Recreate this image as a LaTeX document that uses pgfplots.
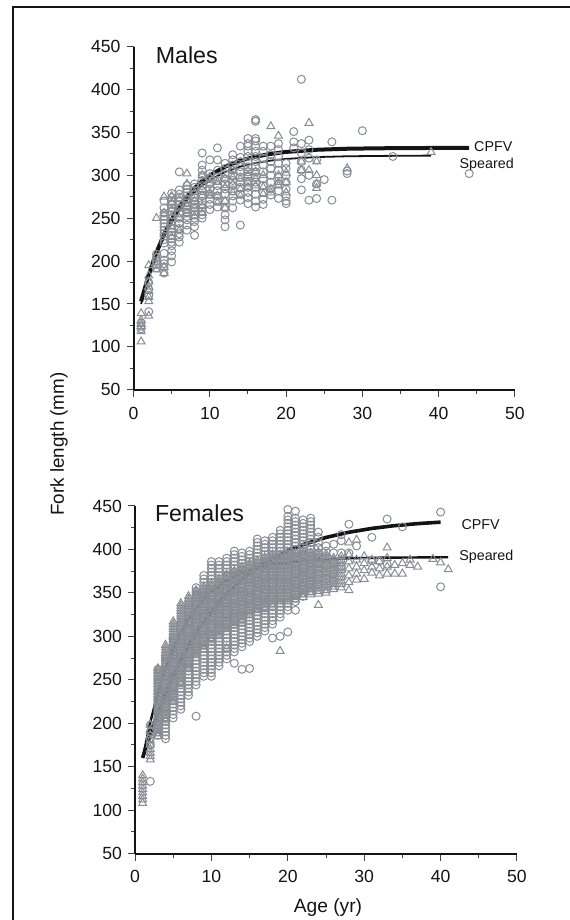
\documentclass[border=0pt]{standalone}
\usepackage{fontspec}
\setmainfont{Liberation Sans}
\usepackage{pgfplots}
\pgfplotsset{compat=1.18}
\definecolor{ptgray}{RGB}{136,141,149}
\definecolor{ink}{RGB}{20,20,20}

% common look of both panels
\pgfplotsset{
  fishax/.style={
    scale only axis,
    anchor=south west,
    xmin=0, xmax=50, ymin=50, ymax=450,
    xtick={0,10,...,50}, ytick={50,100,...,450},
    minor x tick num=1, minor y tick num=1,
    axis x line*=bottom, axis y line*=left,
    axis line style={line width=1pt, color=ink},
    tick align=outside,
    major tick length=3.5pt, minor tick length=2pt,
    tick style={line width=0.5pt, color=black!75},
    ticklabel style={font=\fontsize{8.8}{10}\selectfont, color=ink},
    xticklabel style={yshift=-1.5pt},
    yticklabel style={xshift=0.5pt},
    /pgf/number format/assume math mode=true,
    clip=false,
  },
  circ/.style={only marks, mark=o, mark size=2pt, ptgray, mark options={line width=0.5pt}},
  tri/.style={only marks, mark=triangle, mark size=2.3pt, ptgray, mark options={line width=0.5pt}},
}

\begin{document}
\begin{tikzpicture}
\useasboundingbox (0,0) rectangle (284.5pt,460pt);
\draw[line width=1pt, ink] (6.65pt,-2pt) -- (6.65pt,456.65pt) -- (287pt,456.65pt);

\node[rotate=90, font=\fontsize{9.4}{11}\selectfont, ink] at (29.5pt,238pt) {Fork length (mm)};
\node[anchor=base, font=\fontsize{9.6}{11}\selectfont, ink] at (164pt,3.5pt) {Age (yr)};

% ---------------- Males ----------------
\begin{axis}[fishax, at={(66.75pt,265.15pt)}, width=190.75pt, height=171.5pt]
\addplot[circ] coordinates {
(1,128)(1,124)(1,121)
(2,141)(2,160)(2,167)(2,175)
(3,192)(3,196)(3,200)(3,204)(3,208)
(4,186)(4,193)(4,197)(4,201)(4,209)(4,221)(4,225)(4,229)(4,232)(4,236)(4,240)(4,244)(4,248)(4,252)(4,256)(4,262)(4,270)
(5,199)(5,206)(5,212)(5,218)(5,222)(5,226)(5,230)(5,234)(5,238)(5,242)(5,246)(5,250)(5,254)(5,258)(5,262)(5,266)(5,270)(5,274)(5,279)
(6,222)(6,228)(6,232)(6,238)(6,244)(6,250)(6,256)(6,262)(6,266)(6,270)(6,274)(6,278)(6,283)(6,304)
(7,236)(7,242)(7,248)(7,252)(7,256)(7,260)(7,264)(7,268)(7,272)(7,276)(7,280)(7,284)(7,288)
(8,230)(8,240)(8,246)(8,250)(8,254)(8,258)(8,262)(8,266)(8,270)(8,274)(8,278)(8,282)(8,286)(8,290)
(9,250)(9,254)(9,258)(9,262)(9,266)(9,270)(9,276)(9,282)(9,288)(9,294)(9,300)(9,306)(9,312)(9,326)
(10,260)(10,266)(10,272)(10,278)(10,284)(10,290)(10,296)(10,302)(10,318)
(11,263)(11,270)(11,276)(11,282)(11,288)(11,294)(11,298)(11,306)(11,318)(11,332)
(12,240)(12,248)(12,254)(12,262)(12,270)(12,278)(12,284)(12,290)(12,296)(12,302)(12,308)(12,314)
(13,262)(13,270)(13,276)(13,282)(13,288)(13,294)(13,300)(13,306)(13,312)(13,318)(13,324)
(14,242)(14,271)(14,278)(14,286)(14,292)(14,298)(14,304)(14,310)(14,316)(14,321)(14,334)
(15,267)(15,274)(15,280)(15,286)(15,292)(15,298)(15,304)(15,310)(15,316)(15,322)(15,328)(15,334)(15,337)(15,343)
(16,263)(16,270)(16,278)(16,286)(16,292)(16,298)(16,304)(16,310)(16,316)(16,322)(16,328)(16,334)(16,340)(16,343)(16,363)(16,365)
(17,266)(17,272)(17,280)(17,288)(17,296)(17,304)(17,312)(17,320)(17,328)(17,334)
(18,277)(18,284)(18,292)(18,300)(18,308)(18,316)(18,324)(18,334)
(19,273)(19,282)(19,290)(19,298)(19,306)(19,314)(19,322)(19,330)(19,337)
(20,267)(20,270)(20,276)(20,284)(20,292)(20,300)(20,308)(20,314)
(21,332)(21,339)(21,351)
(22,283)(22,296)(22,306)(22,316)(22,326)(22,337)(22,412)
(23,271)(23,300)(23,320)(23,330)(23,341)
(24,273)(24,290)(24,318)
(25,295)(26,271)(26,339)(28,302)(28,305)(30,352)(34,322)(44,302)
};
\addplot[tri] coordinates {
(1,139)(1,131)(1,127)(1,124)(1,118)(1,106)
(2,136)(2,153)(2,158)(2,165)(2,170)(2,176)(2,183)(2,195)
(3,190)(3,195)(3,205)(3,250)
(4,186)(4,193)(4,256)(4,275)
(5,228)(5,240)(5,252)(5,260)(5,268)(5,276)
(6,236)(6,250)(6,262)(6,272)
(7,256)(7,264)(7,272)(7,290)(7,302)
(8,252)(8,262)(8,270)(8,280)
(9,256)(9,264)(9,276)(9,284)(9,300)
(10,276)(10,280)(10,290)(10,298)
(11,268)(11,276)(11,292)
(12,262)(12,270)(12,286)(12,296)
(13,280)(13,290)(13,298)(13,306)
(14,276)(14,284)(14,296)
(15,286)(15,292)(15,300)(15,306)
(16,288)(16,296)(16,304)
(17,278)(17,286)(17,300)
(18,280)(18,284)(18,357)
(19,288)(19,292)(19,300)(19,346)
(20,280)(20,292)(20,303)
(22,306)(22,316)
(23,306)(23,361)
(24,285)(24,290)(24,300)(24,316)
(28,308)(39,327)
};
% Speared fit
\addplot[ink, line width=0.9pt] coordinates {
(1,150)(2,181.4)(3,207.1)(4,228.1)(5,245.3)(6,259.4)(7,270.9)(8,280.3)(9,288.1)(10,294.4)
(12,303.8)(14,310.1)(16,314.4)(18,317.2)(20,319.1)(24,321.3)(28,322.2)(32,322.6)(39,323)
};
% CPFV fit
\addplot[ink, line width=2pt] coordinates {
(1,153)(2,184.1)(3,209.8)(4,231.1)(5,248.6)(6,263.1)(7,275.1)(8,285)(9,293.2)(10,299.9)
(12,310.1)(14,317.1)(16,321.8)(18,325)(20,327.3)(24,329.8)(28,331)(32,331.5)(36,331.8)(44,332)
};
\node[anchor=base west, font=\fontsize{11.6}{13}\selectfont, ink] at (axis cs:2.0,430.8) {Males};
\node[anchor=base west, font=\fontsize{7.15}{8}\selectfont, ink, inner sep=0pt] at (axis cs:44.6,327.2) {CPFV};
\node[anchor=base west, font=\fontsize{7.15}{8}\selectfont, ink, inner sep=0pt] at (axis cs:42.7,308.5) {Speared};
\end{axis}

% ---------------- Females ----------------
\begin{axis}[fishax, at={(67.5pt,33.25pt)}, width=191pt, height=173.75pt]
\addplot[circ] coordinates {
(2,133)(2,175)(2,182)(2,190)(2,198)
(3,186)(3,190)(3,194)(3,198)(3,202)(3,206)(3,210)(3,214)(3,218)(3,222)(3,226)(3,230)(3,234)(3,238)(3,242)(3,246)(3,250)(3,254)(3,258)(3,262)
(4,182)(4,186)(4,190)(4,194)(4,198)(4,202)(4,206)(4,210)(4,214)(4,218)(4,222)(4,226)(4,230)(4,234)(4,238)(4,242)(4,246)(4,250)(4,254)(4,258)(4,262)(4,266)(4,270)(4,274)(4,278)
(5,206)(5,210)(5,214)(5,218)(5,222)(5,226)(5,230)(5,234)(5,238)(5,242)(5,246)(5,250)(5,254)(5,258)(5,262)(5,266)(5,270)(5,274)(5,278)(5,282)(5,286)(5,290)(5,294)(5,298)
(6,216)(6,220)(6,224)(6,228)(6,232)(6,236)(6,240)(6,244)(6,248)(6,252)(6,256)(6,260)(6,264)(6,268)(6,272)(6,276)(6,280)(6,284)(6,288)(6,292)(6,296)(6,300)(6,304)(6,308)(6,312)(6,316)
(7,232)(7,236)(7,240)(7,244)(7,248)(7,252)(7,256)(7,260)(7,264)(7,268)(7,272)(7,276)(7,280)(7,284)(7,288)(7,292)(7,296)(7,300)(7,304)(7,308)(7,312)(7,316)(7,320)(7,324)(7,328)(7,332)(7,336)
(8,208)(8,244)(8,248)(8,252)(8,256)(8,260)(8,264)(8,268)(8,272)(8,276)(8,280)(8,284)(8,288)(8,292)(8,296)(8,300)(8,304)(8,308)(8,312)(8,316)(8,320)(8,324)(8,328)(8,332)(8,336)(8,340)(8,344)(8,348)(8,352)(8,356)
(9,254)(9,258)(9,262)(9,266)(9,270)(9,274)(9,278)(9,282)(9,286)(9,290)(9,294)(9,298)(9,302)(9,306)(9,310)(9,314)(9,318)(9,322)(9,326)(9,330)(9,334)(9,338)(9,342)(9,346)(9,350)(9,354)(9,358)(9,362)(9,366)(9,370)
(10,254)(10,258)(10,262)(10,266)(10,270)(10,274)(10,278)(10,282)(10,286)(10,290)(10,294)(10,298)(10,302)(10,306)(10,310)(10,314)(10,318)(10,322)(10,326)(10,330)(10,334)(10,338)(10,342)(10,346)(10,350)(10,354)(10,358)(10,362)(10,366)(10,370)(10,374)(10,378)(10,382)(10,386)
(11,266)(11,270)(11,274)(11,278)(11,282)(11,286)(11,290)(11,294)(11,298)(11,302)(11,306)(11,310)(11,314)(11,318)(11,322)(11,326)(11,330)(11,334)(11,338)(11,342)(11,346)(11,350)(11,354)(11,358)(11,362)(11,366)(11,370)(11,374)(11,378)(11,382)(11,386)
(12,274)(12,278)(12,282)(12,286)(12,290)(12,294)(12,298)(12,302)(12,306)(12,310)(12,314)(12,318)(12,322)(12,326)(12,330)(12,334)(12,338)(12,342)(12,346)(12,350)(12,354)(12,358)(12,362)(12,366)(12,370)(12,374)(12,378)(12,382)(12,386)(12,390)
(13,269)(13,282)(13,286)(13,290)(13,294)(13,298)(13,302)(13,306)(13,310)(13,314)(13,318)(13,322)(13,326)(13,330)(13,334)(13,338)(13,342)(13,346)(13,350)(13,354)(13,358)(13,362)(13,366)(13,370)(13,374)(13,378)(13,382)(13,386)(13,390)(13,394)(13,398)
(14,262)(14,288)(14,292)(14,296)(14,300)(14,304)(14,308)(14,312)(14,316)(14,320)(14,324)(14,328)(14,332)(14,336)(14,340)(14,344)(14,348)(14,352)(14,356)(14,360)(14,364)(14,368)(14,372)(14,376)(14,380)(14,384)(14,388)(14,392)(14,396)
(15,263)(15,294)(15,298)(15,302)(15,306)(15,310)(15,314)(15,318)(15,322)(15,326)(15,330)(15,334)(15,338)(15,342)(15,346)(15,350)(15,354)(15,358)(15,362)(15,366)(15,370)(15,374)(15,378)(15,382)(15,386)(15,390)(15,394)(15,398)
(16,300)(16,304)(16,308)(16,312)(16,316)(16,320)(16,324)(16,328)(16,332)(16,336)(16,340)(16,344)(16,348)(16,352)(16,356)(16,360)(16,364)(16,368)(16,372)(16,376)(16,380)(16,384)(16,388)(16,392)(16,396)(16,400)(16,404)(16,408)(16,412)
(17,306)(17,310)(17,314)(17,318)(17,322)(17,326)(17,330)(17,334)(17,338)(17,342)(17,346)(17,350)(17,354)(17,358)(17,362)(17,366)(17,370)(17,374)(17,378)(17,382)(17,386)(17,390)(17,394)(17,398)(17,402)(17,406)(17,410)
(18,298)(18,314)(18,318)(18,322)(18,326)(18,330)(18,334)(18,338)(18,342)(18,346)(18,350)(18,354)(18,358)(18,362)(18,366)(18,370)(18,374)(18,378)(18,382)(18,386)(18,390)(18,394)(18,398)(18,402)(18,406)(18,410)(18,414)
(19,300)(19,322)(19,326)(19,330)(19,334)(19,338)(19,342)(19,346)(19,350)(19,354)(19,358)(19,362)(19,366)(19,370)(19,374)(19,378)(19,382)(19,386)(19,390)(19,394)(19,398)(19,402)(19,406)(19,410)(19,414)(19,418)(19,422)
(20,305)(20,330)(20,334)(20,338)(20,342)(20,346)(20,350)(20,354)(20,358)(20,362)(20,366)(20,370)(20,374)(20,378)(20,382)(20,386)(20,390)(20,394)(20,398)(20,402)(20,406)(20,410)(20,414)(20,418)(20,422)(20,426)(20,430)(20,434)(20,438)(20,446)
(21,330)(21,340)(21,344)(21,348)(21,352)(21,356)(21,360)(21,364)(21,368)(21,372)(21,376)(21,380)(21,384)(21,388)(21,392)(21,396)(21,400)(21,404)(21,408)(21,412)(21,416)(21,420)(21,424)(21,428)(21,432)(21,436)(21,444)
(22,346)(22,350)(22,354)(22,358)(22,362)(22,366)(22,370)(22,374)(22,378)(22,382)(22,386)(22,390)(22,394)(22,398)(22,402)(22,406)(22,410)(22,414)(22,418)(22,422)(22,426)(22,430)(22,434)
(23,352)(23,356)(23,360)(23,364)(23,368)(23,372)(23,376)(23,380)(23,384)(23,388)(23,392)(23,396)(23,400)(23,404)(23,408)(23,412)(23,416)(23,420)(23,424)(23,428)(23,432)(23,436)
(24,360)(24,366)(24,372)(24,378)(24,384)(24,390)(24,396)(24,402)(24,408)(24,414)(24,420)
(25,366)(25,374)(25,382)(25,390)(25,398)(25,404)
(26,372)(26,384)(26,396)(26,406)
(27,380)(27,396)(27,410)(27,417)
(28,396)(28,429)(29,404)(31,387)(31,414)(32,387)(33,383)(33,435)(35,426)(40,357)(40,443)
};
% CPFV fit: over the circles, under the triangles
\addplot[ink, line width=1.8pt] coordinates {
(1,160)(2,187.5)(3,212.3)(4,234.6)(5,254.7)(6,272.7)(7,289)(8,303.7)(10,328.7)(12,349)
(14,365.5)(16,378.9)(18,389.7)(20,398.5)(22,405.6)(25,413.8)(28,419.8)(31,424.2)(34,427.4)(37,429.7)(40,431.4)
};
\addplot[tri] coordinates {
(1,108)(1,112)(1,116)(1,120)(1,124)(1,128)(1,132)(1,136)(1,140)
(2,158)(2,162)(2,166)(2,170)(2,175)(2,180)(2,186)(2,192)(2,198)
(3,185)(3,188)(3,191)(3,194)(3,197)(3,200)(3,203)(3,206)(3,209)(3,212)(3,215)(3,218)(3,221)(3,224)(3,227)(3,230)(3,233)(3,236)(3,239)(3,242)(3,245)(3,248)(3,251)(3,254)(3,257)(3,260)(3,263)
(4,203)(4,206)(4,209)(4,212)(4,215)(4,218)(4,221)(4,224)(4,227)(4,230)(4,233)(4,236)(4,239)(4,242)(4,245)(4,248)(4,251)(4,254)(4,257)(4,260)(4,263)(4,266)(4,269)(4,272)(4,275)(4,278)(4,281)(4,284)(4,287)(4,290)
(5,224)(5,227)(5,230)(5,233)(5,236)(5,239)(5,242)(5,245)(5,248)(5,251)(5,254)(5,257)(5,260)(5,263)(5,266)(5,269)(5,272)(5,275)(5,278)(5,281)(5,284)(5,287)(5,290)(5,293)(5,296)(5,299)(5,302)(5,305)(5,308)(5,311)(5,314)(5,317)
(6,245)(6,248)(6,251)(6,254)(6,257)(6,260)(6,263)(6,266)(6,269)(6,272)(6,275)(6,278)(6,281)(6,284)(6,287)(6,290)(6,293)(6,296)(6,299)(6,302)(6,305)(6,308)(6,311)(6,314)(6,317)(6,320)(6,323)(6,326)(6,329)(6,332)(6,335)(6,338)
(7,262)(7,265)(7,268)(7,271)(7,274)(7,277)(7,280)(7,283)(7,286)(7,289)(7,292)(7,295)(7,298)(7,301)(7,304)(7,307)(7,310)(7,313)(7,316)(7,319)(7,322)(7,325)(7,328)(7,331)(7,334)(7,337)(7,340)(7,343)(7,346)
(8,275)(8,278)(8,281)(8,284)(8,287)(8,290)(8,293)(8,296)(8,299)(8,302)(8,305)(8,308)(8,311)(8,314)(8,317)(8,320)(8,323)(8,326)(8,329)(8,332)(8,335)(8,338)(8,341)(8,344)(8,347)(8,350)(8,353)
(9,285)(9,288)(9,291)(9,294)(9,297)(9,300)(9,303)(9,306)(9,309)(9,312)(9,315)(9,318)(9,321)(9,324)(9,327)(9,330)(9,333)(9,336)(9,339)(9,342)(9,345)(9,348)(9,351)(9,354)(9,357)
(10,295)(10,298)(10,301)(10,304)(10,307)(10,310)(10,313)(10,316)(10,319)(10,322)(10,325)(10,328)(10,331)(10,334)(10,337)(10,340)(10,343)(10,346)(10,349)(10,352)(10,355)(10,358)(10,361)
(11,300)(11,303)(11,306)(11,309)(11,312)(11,315)(11,318)(11,321)(11,324)(11,327)(11,330)(11,333)(11,336)(11,339)(11,342)(11,345)(11,348)(11,351)(11,354)(11,357)(11,360)(11,363)(11,366)
(12,286)(12,305)(12,308)(12,311)(12,314)(12,317)(12,320)(12,323)(12,326)(12,329)(12,332)(12,335)(12,338)(12,341)(12,344)(12,347)(12,350)(12,353)(12,356)(12,359)(12,362)(12,365)(12,368)(12,371)
(13,312)(13,315)(13,318)(13,321)(13,324)(13,327)(13,330)(13,333)(13,336)(13,339)(13,342)(13,345)(13,348)(13,351)(13,354)(13,357)(13,360)(13,363)(13,366)(13,369)(13,372)(13,375)
(14,317)(14,320)(14,323)(14,326)(14,329)(14,332)(14,335)(14,338)(14,341)(14,344)(14,347)(14,350)(14,353)(14,356)(14,359)(14,362)(14,365)(14,368)(14,371)(14,374)(14,377)(14,380)
(15,324)(15,327)(15,330)(15,333)(15,336)(15,339)(15,342)(15,345)(15,348)(15,351)(15,354)(15,357)(15,360)(15,363)(15,366)(15,369)(15,372)(15,375)(15,378)(15,381)(15,384)
(16,327)(16,330)(16,333)(16,336)(16,339)(16,342)(16,345)(16,348)(16,351)(16,354)(16,357)(16,360)(16,363)(16,366)(16,369)(16,372)(16,375)(16,378)(16,381)(16,384)(16,387)
(17,331)(17,334)(17,337)(17,340)(17,343)(17,346)(17,349)(17,352)(17,355)(17,358)(17,361)(17,364)(17,367)(17,370)(17,373)(17,376)(17,379)(17,382)(17,385)(17,388)(17,391)
(18,334)(18,337)(18,340)(18,343)(18,346)(18,349)(18,352)(18,355)(18,358)(18,361)(18,364)(18,367)(18,370)(18,373)(18,376)(18,379)(18,382)(18,385)(18,388)(18,391)(18,394)
(19,283)(19,337)(19,340)(19,343)(19,346)(19,349)(19,352)(19,355)(19,358)(19,361)(19,364)(19,367)(19,370)(19,373)(19,376)(19,379)(19,382)(19,385)(19,388)(19,391)(19,394)
(20,340)(20,343)(20,346)(20,349)(20,352)(20,355)(20,358)(20,361)(20,364)(20,367)(20,370)(20,373)(20,376)(20,379)(20,382)(20,385)(20,388)(20,391)(20,394)(20,397)
(21,342)(21,345)(21,348)(21,351)(21,354)(21,357)(21,360)(21,363)(21,366)(21,369)(21,372)(21,375)(21,378)(21,381)(21,384)(21,387)(21,390)(21,393)(21,396)
(22,345)(22,348)(22,351)(22,354)(22,357)(22,360)(22,363)(22,366)(22,369)(22,372)(22,375)(22,378)(22,381)(22,384)(22,387)(22,390)(22,393)(22,396)(22,399)
(23,348)(23,351)(23,354)(23,357)(23,360)(23,363)(23,366)(23,369)(23,372)(23,375)(23,378)(23,381)(23,384)(23,387)(23,390)(23,393)(23,396)
(24,336)(24,349)(24,352)(24,355)(24,358)(24,361)(24,364)(24,367)(24,370)(24,373)(24,376)(24,379)(24,382)(24,385)(24,388)(24,391)(24,394)(24,397)
(25,350)(25,353)(25,356)(25,359)(25,362)(25,365)(25,368)(25,371)(25,374)(25,377)(25,380)(25,383)(25,386)(25,389)(25,392)(25,395)
(26,354)(26,357)(26,360)(26,363)(26,366)(26,369)(26,372)(26,375)(26,378)(26,381)(26,384)(26,387)(26,390)
(27,356)(27,360)(27,364)(27,368)(27,372)(27,376)(27,380)(27,384)(27,388)(27,392)
(28,353)(28,362)(28,370)(28,378)(28,386)(28,394)(28,408)
(29,365)(29,372)(29,380)(29,388)(29,411)
(30,366)(30,376)(30,384)(30,392)
(31,373)(31,380)(31,388)
(32,370)(32,378)(32,386)
(33,372)(33,380)(33,390)(33,402)
(34,372)(34,382)(35,372)(35,384)(36,382)(36,388)(37,380)(39,389)(40,385)(41,377)
};
% Speared fit, on top
\addplot[ink, line width=1.2pt] coordinates {
(1,160)(2,201.1)(3,234.9)(4,262.7)(5,285.5)(6,304.3)(7,319.7)(8,332.4)(9,342.8)(10,351.4)
(12,364.3)(14,372.9)(16,378.8)(18,382.7)(20,385.4)(24,388.5)(28,389.8)(32,390.5)(41,391)
};
\node[anchor=base west, font=\fontsize{11.6}{13}\selectfont, ink] at (axis cs:1.7,432) {Females};
\node[anchor=base west, font=\fontsize{7.15}{8}\selectfont, ink, inner sep=0pt] at (axis cs:42.7,423.2) {CPFV};
\node[anchor=base west, font=\fontsize{7.15}{8}\selectfont, ink, inner sep=0pt] at (axis cs:42.4,387.8) {Speared};
\end{axis}
\end{tikzpicture}
\end{document}
